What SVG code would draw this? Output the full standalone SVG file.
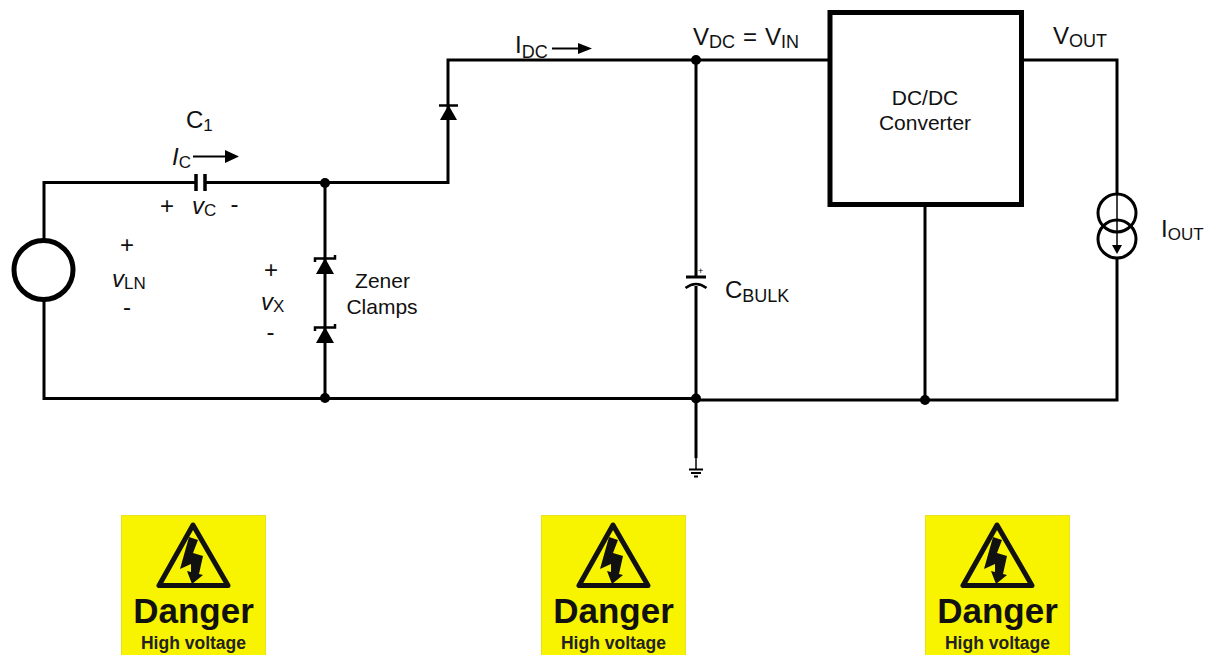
<svg xmlns="http://www.w3.org/2000/svg" width="1207" height="655" viewBox="0 0 1207 655">
<style>
.w{fill:none;stroke:#000;stroke-width:3}
.t{font-family:"Liberation Sans",Arial,sans-serif;font-size:24px;fill:#111}
.s{font-size:18px}
.s2{font-size:17px}
.n{font-family:"Liberation Sans",Arial,sans-serif;font-size:21px;fill:#111;text-anchor:middle}
.i{font-style:italic}
.k{fill:#000}
.sg{fill:#f8f400;stroke:#e8e020;stroke-width:1}
.tr{fill:none;stroke:#111;stroke-width:5;stroke-linejoin:round}
.dg{font-family:"Liberation Sans",Arial,sans-serif;font-weight:700;font-size:35px;fill:#111;text-anchor:middle}
.hv{font-family:"Liberation Sans",Arial,sans-serif;font-weight:700;font-size:17.500px;fill:#222;text-anchor:middle}
</style>
<g id="connectors">
<path class="w" d="M44 240V182.500H196M205 182.500H448V60H828M1022 60H1117V194M1117 258V400H696M44 300V398.500H696"/>
<path class="w" d="M325 183V398M696 60V458M925 205V400"/>
<path d="M696 458V469" stroke="#000" stroke-width="1.500"/>
<path d="M193 156.500H228" stroke="#000" stroke-width="2"/><path d="M225 150L239 156.500L225 163Z" class="k"/>
<path d="M552 48.500H580" stroke="#000" stroke-width="2"/><path d="M578 43L592 48.500L578 54Z" class="k"/>
</g>
<g id="source"><circle cx="43.500" cy="270" r="29.500" fill="#fff" stroke="#000" stroke-width="5"/></g>
<g id="c1"><path d="M196 174V191M205 174V191" stroke="#000" stroke-width="3.500"/>
<text class="t" x="186" y="127.500">C<tspan class="s2" dy="3">1</tspan></text>
<text class="t" x="172" y="165"><tspan class="i">I</tspan><tspan class="s2" dy="3">C</tspan></text>
<text class="t" x="160" y="214">+</text>
<text class="t" x="192" y="214"><tspan class="i">v</tspan><tspan class="s2" dy="2">C</tspan></text>
<text class="t" x="230.500" y="212">-</text></g>
<g id="vln"><text class="t" x="120" y="253">+</text>
<text class="t" x="112" y="287"><tspan class="i">v</tspan><tspan class="s2" dy="1.500">LN</tspan></text>
<text class="t" x="123" y="315">-</text></g>
<g id="vx"><text class="t" x="264" y="278">+</text>
<text class="t" x="261" y="310"><tspan class="i">v</tspan><tspan class="s2" dy="1.500">X</tspan></text>
<text class="t" x="266.500" y="340">-</text></g>
<g id="diode"><path d="M439 105.500H458" stroke="#000" stroke-width="2.500"/><path d="M448.500 105L457 120H440Z" class="k"/></g>
<g id="zener1"><path d="M315 262V258.500H335V255" fill="none" stroke="#000" stroke-width="2.500"/><path d="M325 258L334 274H316Z" class="k"/></g>
<g id="zener2"><path d="M315 331V327.500H335V324" fill="none" stroke="#000" stroke-width="2.500"/><path d="M325 327L334 343H316Z" class="k"/></g>
<g id="zener-label"><text class="n" x="382.500" y="288">Zener</text><text class="n" x="382" y="314">Clamps</text></g>
<g id="dots" class="k"><circle cx="325" cy="183" r="5"/><circle cx="325" cy="398" r="5"/><circle cx="696" cy="60" r="5"/><circle cx="696" cy="398.500" r="5"/><circle cx="925" cy="400" r="5"/></g>
<g id="cbulk"><rect x="688" y="278" width="16" height="8" fill="#fff"/><path d="M686 277H706" stroke="#000" stroke-width="3"/><path d="M685.500 288Q696 280 706.500 288" fill="none" stroke="#000" stroke-width="2.500"/>
<text x="698" y="274" style="font-family:'Liberation Sans',Arial,sans-serif;font-size:9px">+</text>
<text class="t" x="725" y="298">C<tspan class="s" dy="3.500">BULK</tspan></text></g>
<g id="ground"><path d="M689 469.500H703M691 473H701M694 476.500H698" stroke="#000" stroke-width="2"/></g>
<g id="idc"><text class="t" x="515" y="53">I<tspan class="s" dy="5">DC</tspan></text></g>
<g id="vdc"><text class="t" x="693" y="45">V<tspan class="s" dy="3">DC</tspan></text><text class="t" x="743" y="45">=</text><text class="t" x="765" y="45">V<tspan class="s" dy="3">IN</tspan></text></g>
<g id="converter"><rect x="830" y="12.500" width="191.500" height="192" fill="#fff" stroke="#000" stroke-width="5"/>
<text class="n" x="925" y="105">DC/DC</text><text class="n" x="925" y="130">Converter</text></g>
<g id="vout"><text class="t" x="1053" y="44">V<tspan class="s" dy="3">OUT</tspan></text></g>
<g id="iout"><circle cx="1117" cy="213" r="19" fill="none" stroke="#000" stroke-width="3"/><circle cx="1117" cy="239" r="19" fill="none" stroke="#000" stroke-width="3"/>
<path d="M1117 194V248" stroke="#000" stroke-width="1.500"/><path d="M1112 245H1122L1117 254Z" class="k"/>
<text class="t" x="1161" y="237">I<tspan class="s2" dy="2.500">OUT</tspan></text></g>
<g id="sign1"><rect class="sg" x="121.500" y="515.500" width="144" height="140"/>
<path class="tr" d="M193 525L159 585.500H228Z"/>
<path d="M189 537L198 540L193 553L203 556L199 574L203 575L192 584L187 571L191 572L191 564L180 569Z" fill="#111"/>
<text class="dg" x="193.500" y="623">Danger</text><text class="hv" x="193.500" y="649">High voltage</text></g>
<g id="sign2" transform="translate(420 0)"><rect class="sg" x="121.500" y="515.500" width="144" height="140"/>
<path class="tr" d="M193 525L159 585.500H228Z"/>
<path d="M189 537L198 540L193 553L203 556L199 574L203 575L192 584L187 571L191 572L191 564L180 569Z" fill="#111"/>
<text class="dg" x="193.500" y="623">Danger</text><text class="hv" x="193.500" y="649">High voltage</text></g>
<g id="sign3" transform="translate(804 0)"><rect class="sg" x="121.500" y="515.500" width="144" height="140"/>
<path class="tr" d="M193 525L159 585.500H228Z"/>
<path d="M189 537L198 540L193 553L203 556L199 574L203 575L192 584L187 571L191 572L191 564L180 569Z" fill="#111"/>
<text class="dg" x="193.500" y="623">Danger</text><text class="hv" x="193.500" y="649">High voltage</text></g>
</svg>
